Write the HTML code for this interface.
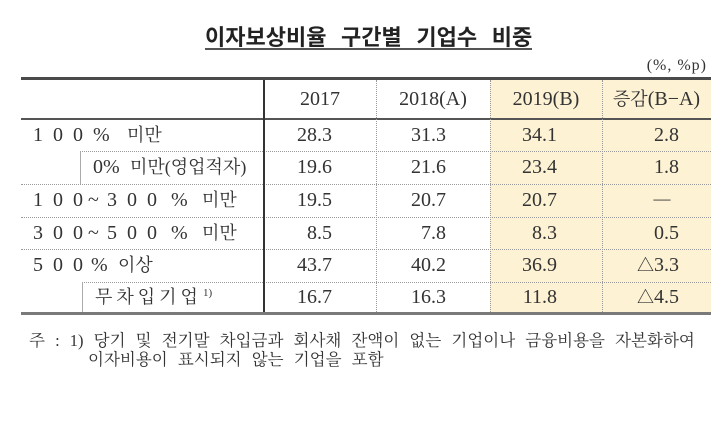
<!DOCTYPE html>
<html><head><meta charset="utf-8">
<style>
html,body{margin:0;padding:0;background:#fff;}
body{width:724px;height:433px;position:relative;overflow:hidden;color:#333;font-family:"Liberation Serif","Noto Serif CJK SC",serif;}
.a{position:absolute;white-space:nowrap;}
.n{position:absolute;width:100px;height:24px;line-height:24px;text-align:right;font-size:20px;white-space:nowrap;}
.h{position:absolute;height:24px;line-height:24px;text-align:center;font-size:20px;white-space:nowrap;}
.l{position:absolute;height:24px;line-height:24px;white-space:nowrap;}
.d{font-size:20px;letter-spacing:10px;}
.k{font-size:18px;}
.t{font-size:17px;}
.hl{position:absolute;border-top:1px dotted #9a9a9a;height:0;}
.vl{position:absolute;border-left:1px dotted #9a9a9a;width:0;top:80px;height:232px;}
</style></head><body>

<div class="a" style="left:205px;top:27px;height:21px;line-height:22px;font-family:'Liberation Sans','Noto Sans CJK KR',sans-serif;font-weight:bold;font-size:22px;word-spacing:8.5px;color:#222;border-bottom:2px solid #555;">이자보상비율 구간별 기업수 비중</div>

<div class="a" style="right:17px;top:56px;font-size:16px;line-height:20px;letter-spacing:1px;">(%, %p)</div>

<!-- yellow column -->
<div class="a" style="left:490px;top:80px;width:221px;height:232px;background:#fdf2d4;"></div>

<!-- horizontal lines -->
<div class="a" style="left:21px;top:77px;width:690px;height:3px;background:#4a4a4a;"></div>
<div class="a" style="left:21px;top:118px;width:690px;height:2px;background:#555;"></div>
<div class="a" style="left:21px;top:312px;width:690px;height:3px;background:#7a7a7a;"></div>

<div class="hl" style="left:80px;top:151px;width:631px;"></div>
<div class="hl" style="left:21px;top:184px;width:690px;"></div>
<div class="hl" style="left:21px;top:217px;width:690px;"></div>
<div class="hl" style="left:21px;top:249px;width:690px;"></div>
<div class="hl" style="left:82px;top:282px;width:629px;"></div>

<!-- vertical lines -->
<div class="a" style="left:263px;top:80px;width:2px;height:232px;background:#333;"></div>
<div class="vl" style="left:376px;"></div>
<div class="vl" style="left:490px;"></div>
<div class="vl" style="left:602px;"></div>
<div class="a" style="left:80px;top:151px;width:1px;height:33px;background:#aaa;"></div>
<div class="a" style="left:82px;top:282px;width:1px;height:30px;background:#aaa;"></div>

<!-- header -->
<div class="h" style="left:264px;width:112px;top:87px;">2017</div>
<div class="h" style="left:376px;width:114px;top:87px;">2018(A)</div>
<div class="h" style="left:490px;width:112px;top:87px;">2019(B)</div>
<div class="h" style="left:602px;width:109px;top:87px;"><span class="k">증감</span>(B−A)</div>

<!-- row labels -->
<div class="l" style="left:33px;top:123px;"><span class="d">100%</span></div>
<div class="l k" style="left:127px;top:123px;">미만</div>

<div class="l" style="left:93px;top:155px;font-size:20px;">0%</div>
<div class="l k" style="left:130px;top:155px;">미만(영업적자)</div>

<div class="l" style="left:33px;top:188px;"><span class="d">100</span></div>
<div class="l" style="left:88px;top:188px;font-size:20px;">~</div>
<div class="l" style="left:107px;top:188px;"><span class="d">300</span></div>
<div class="l" style="left:171px;top:188px;font-size:20px;">%</div>
<div class="l k" style="left:202px;top:188px;">미만</div>

<div class="l" style="left:33px;top:221px;"><span class="d">300</span></div>
<div class="l" style="left:88px;top:221px;font-size:20px;">~</div>
<div class="l" style="left:107px;top:221px;"><span class="d">500</span></div>
<div class="l" style="left:171px;top:221px;font-size:20px;">%</div>
<div class="l k" style="left:202px;top:221px;">미만</div>

<div class="l" style="left:33px;top:253px;"><span class="d">500</span></div>
<div class="l" style="left:91px;top:253px;font-size:20px;">%</div>
<div class="l k" style="left:118px;top:253px;">이상</div>

<div class="l k" style="left:95px;top:285px;letter-spacing:4px;">무차입기업</div>
<div class="a" style="left:203px;top:287px;font-size:11px;line-height:12px;">1)</div>

<!-- numbers: right edges 332, 446, 557, 679 -->
<div class="n" style="left:232px;top:123px;">28.3</div>
<div class="n" style="left:346px;top:123px;">31.3</div>
<div class="n" style="left:457px;top:123px;">34.1</div>
<div class="n" style="left:579px;top:123px;">2.8</div>

<div class="n" style="left:232px;top:155px;">19.6</div>
<div class="n" style="left:346px;top:155px;">21.6</div>
<div class="n" style="left:457px;top:155px;">23.4</div>
<div class="n" style="left:579px;top:155px;">1.8</div>

<div class="n" style="left:232px;top:188px;">19.5</div>
<div class="n" style="left:346px;top:188px;">20.7</div>
<div class="n" style="left:457px;top:188px;">20.7</div>
<div class="a" style="left:640px;top:187px;width:44px;text-align:center;font-size:17px;line-height:24px;">—</div>

<div class="n" style="left:232px;top:221px;">8.5</div>
<div class="n" style="left:346px;top:221px;">7.8</div>
<div class="n" style="left:457px;top:221px;">8.3</div>
<div class="n" style="left:579px;top:221px;">0.5</div>

<div class="n" style="left:232px;top:253px;">43.7</div>
<div class="n" style="left:346px;top:253px;">40.2</div>
<div class="n" style="left:457px;top:253px;">36.9</div>
<div class="n" style="left:579px;top:253px;"><span class="t">△</span>3.3</div>

<div class="n" style="left:232px;top:285px;">16.7</div>
<div class="n" style="left:346px;top:285px;">16.3</div>
<div class="n" style="left:457px;top:285px;">11.8</div>
<div class="n" style="left:579px;top:285px;"><span class="t">△</span>4.5</div>

<!-- footnote -->
<div class="a" style="left:29px;top:330px;font-size:16.5px;line-height:22px;word-spacing:6px;">주 : 1) 당기 및 전기말 차입금과 회사채 잔액이 없는 기업이나 금융비용을 자본화하여</div>
<div class="a" style="left:88px;top:349px;font-size:16.5px;line-height:22px;word-spacing:6px;">이자비용이 표시되지 않는 기업을 포함</div>

</body></html>
